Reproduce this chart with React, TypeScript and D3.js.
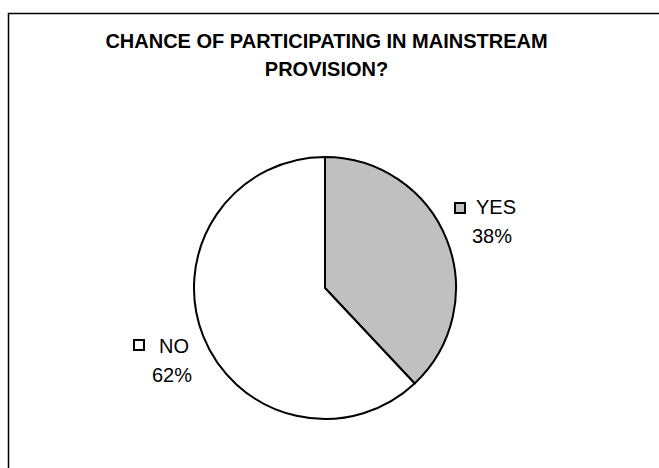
import React from "react";
import * as d3 from "d3";

const categories = ["YES", "NO"];
const values = [38, 62];
const colors = ["#c0c0c0", "#ffffff"];
const titleLines = ["CHANCE OF PARTICIPATING IN MAINSTREAM", "PROVISION?"];

const W = 659;
const H = 468;
const cx = 325;
const cy = 288;
const R = 131;
const FONT = "Arial, 'Liberation Sans', sans-serif";

// label layout (text positions)
const labelPos = [
  { keyX: 455, keyY: 203, nameX: 476, nameY: 214, pctX: 472, pctY: 243 },
  { keyX: 134, keyY: 340, nameX: 159, nameY: 353, pctX: 152, pctY: 382 },
];

export default function App() {
  const total = d3.sum(values);
  const pie = d3
    .pie<number>()
    .sort(null)
    .startAngle(0)
    .endAngle(2 * Math.PI)
    .value((d) => d);
  const arcs = pie(values);
  const arc = d3.arc<d3.PieArcDatum<number>>().innerRadius(0).outerRadius(R);

  return (
    <svg
      width={W}
      height={H}
      style={{ position: "absolute", left: 0, top: 0, background: "#fff" }}
    >
      <rect x={0} y={0} width={W} height={H} fill="#fff" />
      <rect
        x={8.5}
        y={13.5}
        width={W + 20}
        height={H + 20}
        fill="none"
        stroke="#000"
        strokeWidth={1.5}
      />
      {titleLines.map((t, i) => (
        <text
          key={i}
          x={326.5}
          y={48 + i * 28}
          textAnchor="middle"
          fontFamily={FONT}
          fontWeight="bold"
          fontSize={20}
          fill="#000"
        >
          {t}
        </text>
      ))}
      <g transform={`translate(${cx},${cy})`}>
        {arcs.map((a, i) => (
          <path
            key={i}
            d={arc(a) || ""}
            fill={colors[i]}
            stroke="#000"
            strokeWidth={2}
            strokeLinejoin="round"
          />
        ))}
      </g>
      {categories.map((c, i) => {
        const p = labelPos[i];
        const pct = Math.round((values[i] / total) * 100);
        return (
          <g key={c}>
            <rect
              x={p.keyX}
              y={p.keyY}
              width={10}
              height={10}
              fill={colors[i]}
              stroke="#000"
              strokeWidth={2}
            />
            <text
              x={p.nameX}
              y={p.nameY}
              fontFamily={FONT}
              fontSize={20}
              fill="#000"
            >
              {c}
            </text>
            <text
              x={p.pctX}
              y={p.pctY}
              fontFamily={FONT}
              fontSize={20}
              fill="#000"
            >
              {pct}%
            </text>
          </g>
        );
      })}
    </svg>
  );
}
